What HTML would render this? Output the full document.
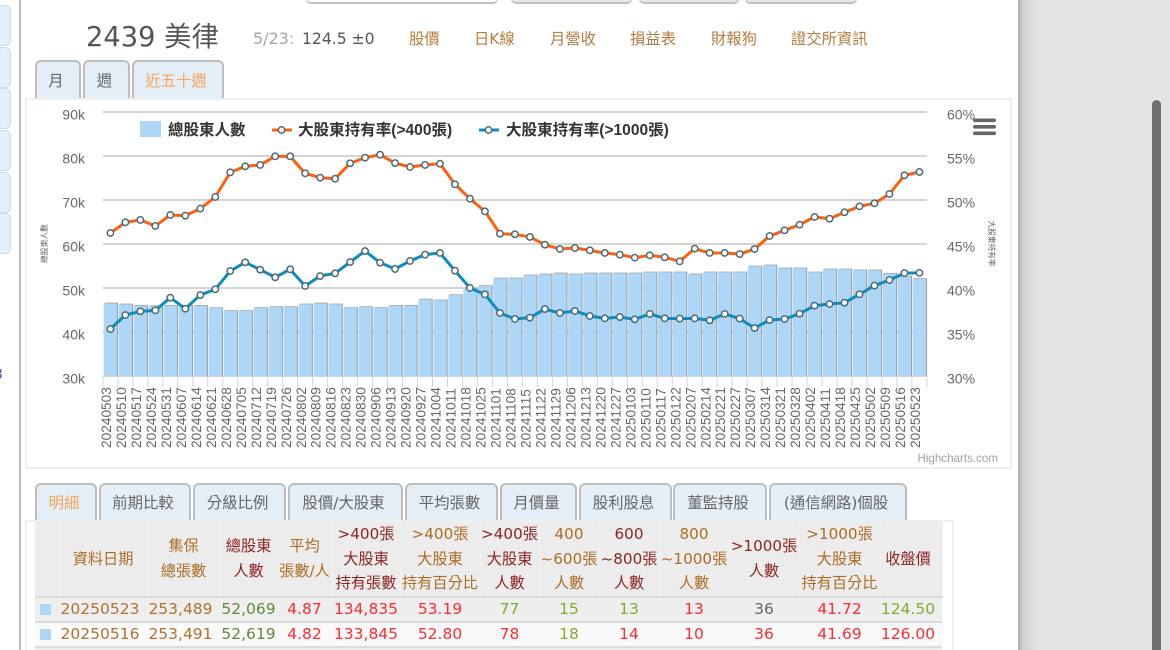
<!DOCTYPE html>
<html lang="zh-Hant">
<head>
<meta charset="utf-8">
<title>2439 美律 股東持股分級</title>
<style>
html,body{margin:0;padding:0;width:1170px;height:650px;overflow:hidden;background:#fff;}
#root{position:relative;width:1170px;height:650px;overflow:hidden;background:#fff;filter:blur(0.35px);font-family:"DejaVu Sans","Noto Sans CJK TC",sans-serif;}
.abs{position:absolute;white-space:nowrap;}
.side{position:absolute;left:-10px;width:19px;height:39px;background:#e4f0fa;border:1px solid #c4dcf0;border-radius:6px;}
.topbtn{position:absolute;top:-10px;height:11px;border:1px solid #c8c8c8;border-bottom:2px solid #c0c0c0;border-radius:5px;background:#e8e8e8;}
.lnk{position:absolute;top:30px;font-size:15.3px;line-height:18px;color:#b87a3c;white-space:nowrap;}
.tab{position:absolute;box-sizing:border-box;background:#e4eef6;border:2px solid #bdbdbd;border-bottom:none;border-radius:6px 6px 0 0;text-align:center;color:#666;font-size:15.4px;white-space:nowrap;padding-right:4px;}
.t1{top:60px;height:38px;line-height:39px;font-size:15.4px;}
.t2{top:483px;height:37px;line-height:37px;}
.on{color:#f9a55e;}
#box-chart{position:absolute;left:25px;top:98px;width:983px;height:367px;border:2px solid #efefef;background:#fff;}
#box-table{position:absolute;left:25px;top:520px;width:925px;height:140px;border:2px solid #efefef;background:#fff;}
table{position:absolute;left:35px;top:522px;border-collapse:collapse;table-layout:fixed;width:907px;}
th{font-weight:normal;font-size:15.2px;line-height:24.7px;background:#ececec;height:73px;padding:0;white-space:nowrap;text-align:center;border-right:1px solid #f1f1f1;}
td{font-size:15.5px;height:23px;padding:0;text-align:center;white-space:nowrap;border-top:2px solid #dcdcdc;line-height:23px;}
tr.a td{background:#eeeeee;}
tr.b td{background:#fafafa;}
.br{color:#ad6c24;}
.dr{color:#8e2323;}
.d{color:#b0722f;}
td.d{padding-right:6px;}
td.ic{padding-right:4px;}
.g{color:#5f8a38;}
.lg{color:#7fae2e;}
.r{color:#ff2b33;}
.gy{color:#666;}
.sq{display:inline-block;width:11px;height:11px;background:#aed6f7;vertical-align:-1px;}
svg text{font-family:"Liberation Sans","Noto Sans CJK TC",sans-serif;}
</style>
</head>
<body>
<div id="root">
  <div class="side" style="top:5px"></div>
  <div class="side" style="top:47px"></div>
  <div class="side" style="top:88px"></div>
  <div class="side" style="top:130px"></div>
  <div class="side" style="top:172px"></div>
  <div class="side" style="top:213px"></div>
  <div class="abs" style="left:-6px;top:367px;font-size:14px;color:#3a4fa8">3</div>

  <div class="abs" style="left:19px;top:0;width:2px;height:650px;background:#bdbdbd"></div>
  <div class="abs" style="left:1018px;top:0;width:152px;height:650px;background:#e3e3e3"></div>
  <div class="abs" style="left:1018px;top:0;width:18px;height:650px;background:linear-gradient(to right,#a9a9a9,#cfcfcf 25%,#e3e3e3)"></div>
  <div class="abs" style="left:1152px;top:100px;width:9px;height:560px;background:#707070;border-radius:5px"></div>

  <div class="topbtn" style="left:306px;width:190px;background:#fff"></div>
  <div class="topbtn" style="left:511px;width:119px"></div>
  <div class="topbtn" style="left:639px;width:98px"></div>
  <div class="topbtn" style="left:745px;width:110px"></div>

  <div class="abs" style="left:86px;top:21px;font-size:27.3px;line-height:34px;color:#555">2439 美律</div>
  <div class="abs" style="left:253px;top:30px;font-size:16px;line-height:18px;color:#a6a6a6">5/23:</div>
  <div class="abs" style="left:302px;top:30px;font-size:15.6px;line-height:18px;color:#555">124.5 ±0</div>
  <div class="lnk" style="left:409px">股價</div>
  <div class="lnk" style="left:474px">日K線</div>
  <div class="lnk" style="left:550px">月營收</div>
  <div class="lnk" style="left:630px">損益表</div>
  <div class="lnk" style="left:711px">財報狗</div>
  <div class="lnk" style="left:791px">證交所資訊</div>

  <div class="tab t1" style="left:35px;width:46px">月</div>
  <div class="tab t1" style="left:83px;width:47px">週</div>
  <div class="tab t1 on" style="left:132px;width:92px">近五十週</div>

  <div id="box-chart"></div>
  <svg id="chart" class="abs" style="left:0;top:0" width="1170" height="650" viewBox="0 0 1170 650">
    <g id="grid"></g>
    <g id="ticks"></g>
    <g id="bars"></g>
    <g id="lines"></g>
    <g id="ylabels"></g>
    <g id="xlabels"></g>
    <text x="45" y="243.5" font-size="7.8" fill="#666" text-anchor="middle" transform="rotate(-90 45 243.5)" dominant-baseline="middle">總股東人數</text>
    <text x="991" y="243.5" font-size="7.7" fill="#666" text-anchor="middle" transform="rotate(90 991 243.5)" dominant-baseline="middle">大股東持有率</text>
    <g>
      <g>
        <rect x="140" y="121" width="21" height="16" fill="#aed6f7"></rect>
        <text x="168" y="135" font-size="15.5" font-weight="bold" fill="#333">總股東人數</text>
      </g>
      <g>
        <line x1="272" y1="130" x2="292" y2="130" stroke="#ff5f0f" stroke-width="3"></line>
        <circle cx="281.5" cy="130" r="3.2" fill="#fff" stroke="#4d6b70" stroke-width="1.5"></circle>
        <text x="298" y="135" font-size="15.55" font-weight="bold" fill="#333">大股東持有率(&gt;400張)</text>
      </g>
      <g>
        <line x1="479" y1="130" x2="499" y2="130" stroke="#0a8cc6" stroke-width="3"></line>
        <circle cx="488.5" cy="130" r="3.2" fill="#fff" stroke="#4d6b70" stroke-width="1.5"></circle>
        <text x="506" y="135" font-size="15.55" font-weight="bold" fill="#333">大股東持有率(&gt;1000張)</text>
      </g>
    </g>
    <g>
      <rect x="973" y="118.5" width="23" height="3.6" rx="1.8" fill="#666"></rect>
      <rect x="973" y="125" width="23" height="3.6" rx="1.8" fill="#666"></rect>
      <rect x="973" y="131.5" width="23" height="3.6" rx="1.8" fill="#666"></rect>
    </g>
    <text x="998" y="462" font-size="11.6" fill="#a0a0a0" text-anchor="end">Highcharts.com</text>
  </svg>

  <div class="tab t2 on" style="left:35px;width:62px">明細</div>
  <div class="tab t2" style="left:99px;width:92px">前期比較</div>
  <div class="tab t2" style="left:193px;width:93px">分級比例</div>
  <div class="tab t2" style="left:288px;width:115px">股價/大股東</div>
  <div class="tab t2" style="left:405px;width:93px">平均張數</div>
  <div class="tab t2" style="left:500px;width:77px">月價量</div>
  <div class="tab t2" style="left:579px;width:93px">股利股息</div>
  <div class="tab t2" style="left:673px;width:94px">董監持股</div>
  <div class="tab t2" style="left:769px;width:138px">(通信網路)個股</div>

  <div id="box-table"></div>
  <table>
    <colgroup><col style="width:24px"><col style="width:88px"><col style="width:73px"><col style="width:57px"><col style="width:55px"><col style="width:68px"><col style="width:80px"><col style="width:59px"><col style="width:60px"><col style="width:60px"><col style="width:70px"><col style="width:70px"><col style="width:81px"><col style="width:62px"></colgroup>
    <tr>
      <th></th>
      <th class="br">資料日期</th>
      <th class="br">集保<br>總張數</th>
      <th class="dr">總股東<br>人數</th>
      <th class="br">平均<br>張數/人</th>
      <th class="dr">&gt;400張<br>大股東<br>持有張數</th>
      <th class="br">&gt;400張<br>大股東<br>持有百分比</th>
      <th class="dr">&gt;400張<br>大股東<br>人數</th>
      <th class="br">400<br>~600張<br>人數</th>
      <th class="dr">600<br>~800張<br>人數</th>
      <th class="br">800<br>~1000張<br>人數</th>
      <th class="dr">&gt;1000張<br>人數</th>
      <th class="br">&gt;1000張<br>大股東<br>持有百分比</th>
      <th class="dr" style="padding-right:6px">收盤價</th>
    </tr>
    <tr class="a">
      <td class="ic"><span class="sq"></span></td><td class="d">20250523</td><td class="d">253,489</td><td class="g">52,069</td><td class="r">4.87</td><td class="r">134,835</td><td class="r">53.19</td><td class="lg">77</td><td class="lg">15</td><td class="lg">13</td><td class="r">13</td><td class="gy">36</td><td class="r">41.72</td><td class="lg" style="padding-right:6px">124.50</td>
    </tr>
    <tr class="b">
      <td class="ic"><span class="sq"></span></td><td class="d">20250516</td><td class="d">253,491</td><td class="g">52,619</td><td class="r">4.82</td><td class="r">133,845</td><td class="r">52.80</td><td class="r">78</td><td class="lg">18</td><td class="r">14</td><td class="r">10</td><td class="r">36</td><td class="r">41.69</td><td class="r" style="padding-right:6px">126.00</td>
    </tr>
    <tr class="a"><td colspan="14"></td></tr>
  </table>
</div>

<script>
const categories = ["20240503","20240510","20240517","20240524","20240531","20240607","20240614","20240621","20240628","20240705","20240712","20240719","20240726","20240802","20240809","20240816","20240823","20240830","20240906","20240913","20240920","20240927","20241004","20241011","20241018","20241025","20241101","20241108","20241115","20241122","20241129","20241206","20241213","20241220","20241227","20250103","20250110","20250117","20250122","20250207","20250214","20250221","20250227","20250307","20250314","20250321","20250328","20250402","20250411","20250418","20250425","20250502","20250509","20250516","20250523"];
const holdersK = [46.52,46.29,45.98,45.9,45.98,45.98,45.98,45.45,44.77,44.77,45.45,45.68,45.68,46.29,46.52,46.29,45.45,45.68,45.45,45.98,45.98,47.42,47.2,48.41,49.92,50.45,52.2,52.2,52.88,53.11,53.33,53.11,53.33,53.33,53.33,53.33,53.56,53.56,53.56,53.11,53.56,53.56,53.56,54.92,55.15,54.47,54.47,53.56,54.24,54.24,54.02,54.02,53.26,52.619,52.069];
const pctOver400 = [46.25,47.46,47.73,47.05,48.3,48.22,49.02,50.34,53.14,53.83,53.98,54.96,54.96,53.03,52.54,52.42,54.17,54.81,55.15,54.2,53.75,53.98,54.13,51.78,50.15,48.71,46.17,46.1,45.8,44.92,44.43,44.55,44.28,43.98,43.79,43.45,43.71,43.49,43.03,44.47,43.98,43.98,43.86,44.43,45.91,46.55,47.2,48.07,47.88,48.6,49.28,49.62,50.68,52.8,53.19];
const pctOver1000 = [35.34,36.93,37.35,37.46,38.9,37.65,39.2,39.85,41.93,42.92,42.08,41.21,42.12,40.23,41.36,41.67,42.95,44.2,42.88,42.16,43.07,43.79,43.98,41.97,40,39.28,37.16,36.48,36.63,37.61,37.16,37.39,36.82,36.55,36.7,36.44,37.05,36.55,36.52,36.55,36.33,37.05,36.52,35.45,36.36,36.48,37.08,37.99,38.18,38.33,39.28,40.27,40.91,41.69,41.72];
const leftTicks = [30,40,50,60,70,80,90];
const rightTicks = [30,35,40,45,50,55,60];

const NS = "http://www.w3.org/2000/svg";
const plot = {left:102.9, right:926.9, top:112, bottom:376};
const band = (plot.right - plot.left) / categories.length;
function xAt(i){ return plot.left + band * (i + 0.5); }
function yLeft(v){ return plot.bottom - (v - 30) / 60 * (plot.bottom - plot.top); }
function yRight(v){ return plot.bottom - (v - 30) / 30 * (plot.bottom - plot.top); }
function mk(tag, attrs, parent){
  const el = document.createElementNS(NS, tag);
  for (const k in attrs) el.setAttribute(k, attrs[k]);
  parent.appendChild(el);
  return el;
}
const gGrid = document.getElementById("grid");
const gTicks = document.getElementById("ticks");
const gBars = document.getElementById("bars");
const gLines = document.getElementById("lines");
const gY = document.getElementById("ylabels");
const gX = document.getElementById("xlabels");

leftTicks.forEach(function(t, i){
  const y = yLeft(t);
  if (i > 0) {
    const ln = mk("line", {x1:plot.left, x2:plot.right, y1:y, y2:y, stroke:"#c6c6c6", "stroke-width":1.6}, gGrid);
    
    
  }
  const lab = mk("text", {x:85, y:y + 7.4, "font-size":14, fill:"#666", "text-anchor":"end"}, gY);
  lab.textContent = t + "k";
  
  
});
rightTicks.forEach(function(t){
  const lab = mk("text", {x:947, y:yRight(t) + 7.4, "font-size":14, fill:"#666"}, gY);
  lab.textContent = t + "%";
  
  
});

const axisLine = mk("line", {x1:plot.left, x2:plot.right, y1:plot.bottom + 0.5, y2:plot.bottom + 0.5, stroke:"#c8d6e6", "stroke-width":1}, gTicks);


for (let i = 0; i <= categories.length; i++) {
  const tx = plot.left + band * i;
  const tk = mk("line", {x1:tx, x2:tx, y1:plot.bottom, y2:plot.bottom + 11, stroke:"#c8d6e6", "stroke-width":1}, gTicks);
  
  
}

categories.forEach(function(c, i){
  const w = 13.3;
  const x = xAt(i) - w / 2;
  const y = yLeft(holdersK[i]);
  const sh = mk("rect", {x:x + 1, y:y - 0.7, width:w, height:plot.bottom - y + 0.7, fill:"#858585", opacity:0.8}, gBars);
  
  
  const b = mk("rect", {x:x, y:y, width:w, height:plot.bottom - y, fill:"#aed6f7"}, gBars);
  
  

  const lx = xAt(i) + 0.6;
  const lab = mk("text", {x:lx, y:448, "font-size":13.7, fill:"#666", transform:"rotate(-90 " + lx + " 448)"}, gX);
  lab.textContent = c;
  
  
});

function drawSeries(values, color, label){
  const pts = values.map(function(v, i){ return xAt(i).toFixed(2) + "," + yRight(v).toFixed(2); }).join(" ");
  const line = mk("polyline", {points:pts, fill:"none", stroke:color, "stroke-width":3, "stroke-linejoin":"round"}, gLines);
  
  
  values.forEach(function(v, i){
    const m = mk("circle", {cx:xAt(i), cy:yRight(v), r:3.2, fill:"#fff", stroke:"#4d6b70", "stroke-width":1.5}, gLines);
    
    
  });
}
drawSeries(pctOver400, "#ff5f0f", "over-400-rate");
drawSeries(pctOver1000, "#0a8cc6", "over-1000-rate");
</script>
</body>
</html>
